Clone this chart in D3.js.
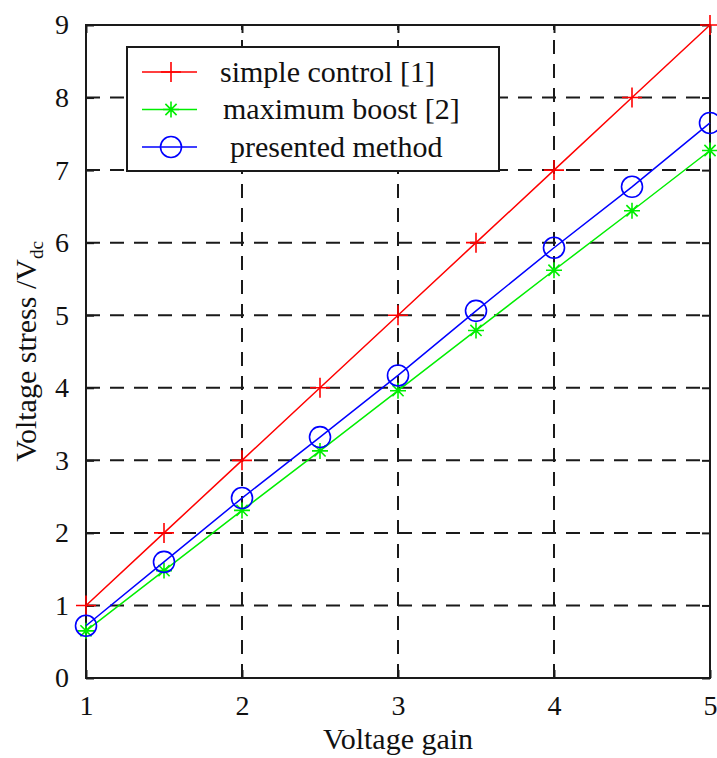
<!DOCTYPE html>
<html>
<head>
<meta charset="utf-8">
<script src="https://cdn.jsdelivr.net/npm/d3@7/dist/d3.min.js"></script>
<style>
  body { margin: 0; background: #fff; }
  svg text { font-family: "Liberation Serif", "DejaVu Serif", "Noto Serif", serif !important; fill: #111; }
</style>
</head>
<body>
<div id="chart"></div>
<script>
// data
var gains = [1, 1.5, 2, 2.5, 3, 3.5, 4, 4.5, 5];
var simpleControl = [1, 2, 3, 4, 5, 6, 7, 8, 9];
var maxBoost = [0.65, 1.48, 2.31, 3.13, 3.96, 4.79, 5.62, 6.44, 7.27];
var presented = [0.72, 1.60, 2.48, 3.32, 4.17, 5.06, 5.93, 6.77, 7.65];
var xTicks = [1, 2, 3, 4, 5];
var yTicks = [0, 1, 2, 3, 4, 5, 6, 7, 8, 9];
var seriesNames = ["simple control [1]", "maximum boost [2]", "presented method"];

var width = 717, height = 758;
var plot = {left: 86, right: 710, top: 25, bottom: 678};

var svg = d3.select("#chart").append("svg")
    .attr("width", width)
    .attr("height", height);

var x = d3.scaleLinear().domain([1, 5]).range([plot.left, plot.right]);
var y = d3.scaleLinear().domain([0, 9]).range([plot.bottom, plot.top]);

// Dashed grid
var grid = svg.append("g").attr("class", "grid")
    .style("stroke", "#1a1a1a")
    .style("stroke-width", 2)
    .style("stroke-dasharray", "14,10");
grid.selectAll("line.v").data(xTicks.slice(1, -1)).enter().append("line")
    .attr("x1", function(d) { return x(d); })
    .attr("x2", function(d) { return x(d); })
    .attr("y1", plot.bottom)
    .attr("y2", plot.top);
grid.selectAll("line.h").data(yTicks.slice(1, -1)).enter().append("line")
    .attr("x1", plot.left)
    .attr("x2", plot.right)
    .attr("y1", function(d) { return y(d); })
    .attr("y2", function(d) { return y(d); });

// Axes with inward ticks on all four sides
var tickLen = 8;
svg.append("g").attr("transform", "translate(0," + plot.bottom + ")")
    .call(d3.axisBottom(x).tickValues(xTicks).tickSizeInner(-tickLen).tickSizeOuter(0).tickPadding(17).tickFormat(d3.format("d")));
svg.append("g").attr("transform", "translate(0," + plot.top + ")")
    .call(d3.axisTop(x).tickValues(xTicks).tickSizeInner(-tickLen).tickSizeOuter(0).tickFormat(""));
svg.append("g").attr("transform", "translate(" + plot.left + ",0)")
    .call(d3.axisLeft(y).tickValues(yTicks).tickSizeInner(-tickLen).tickSizeOuter(0).tickPadding(17).tickFormat(d3.format("d")));
svg.append("g").attr("transform", "translate(" + plot.right + ",0)")
    .call(d3.axisRight(y).tickValues(yTicks).tickSizeInner(-tickLen).tickSizeOuter(0).tickFormat(""));

svg.selectAll(".domain").remove();
svg.selectAll("g").attr("font-family", null);
svg.selectAll(".tick line").style("stroke", "#1a1a1a").style("stroke-width", 2);
svg.selectAll(".tick text").style("font-size", "28px").style("fill", "#111");

// Frame
svg.append("rect")
    .attr("x", plot.left).attr("y", plot.top)
    .attr("width", plot.right - plot.left)
    .attr("height", plot.bottom - plot.top)
    .style("fill", "none")
    .style("stroke", "#1a1a1a")
    .style("stroke-width", 2);

// Markers
function drawMarker(g, type, cx, cy, color) {
    if (type === "plus") {
        g.append("path")
            .attr("d", "M" + (cx - 10) + "," + cy + "H" + (cx + 10) + "M" + cx + "," + (cy - 10) + "V" + (cy + 10))
            .style("stroke", color).style("stroke-width", 1.6).style("fill", "none");
    } else if (type === "star") {
        var s = 8, k = 5.6;
        g.append("path")
            .attr("d", "M" + (cx - s) + "," + cy + "H" + (cx + s) +
                       "M" + cx + "," + (cy - s) + "V" + (cy + s) +
                       "M" + (cx - k) + "," + (cy - k) + "L" + (cx + k) + "," + (cy + k) +
                       "M" + (cx - k) + "," + (cy + k) + "L" + (cx + k) + "," + (cy - k))
            .style("stroke", color).style("stroke-width", 1.6).style("fill", "none");
    } else {
        g.append("circle")
            .attr("cx", cx).attr("cy", cy).attr("r", 10.5)
            .style("stroke", color).style("stroke-width", 1.6).style("fill", "none");
    }
}

var series = [
    {name: seriesNames[0], values: simpleControl, color: "#ff0000", marker: "plus"},
    {name: seriesNames[1], values: maxBoost, color: "#00ee00", marker: "star"},
    {name: seriesNames[2], values: presented, color: "#0000ff", marker: "circle"}
];

var line = d3.line()
    .x(function(d) { return x(d[0]); })
    .y(function(d) { return y(d[1]); });

series.forEach(function(s) {
    var pts = gains.map(function(g, i) { return [g, s.values[i]]; });
    var g = svg.append("g");
    g.append("path")
        .attr("d", line(pts))
        .style("fill", "none")
        .style("stroke", s.color)
        .style("stroke-width", 1.5);
    pts.forEach(function(p) {
        drawMarker(g, s.marker, x(p[0]), y(p[1]), s.color);
    });
});

// Legend
var legend = svg.append("g").attr("transform", "translate(127,47)");
legend.append("rect")
    .attr("width", 372).attr("height", 124)
    .style("fill", "#fff")
    .style("stroke", "#1a1a1a")
    .style("stroke-width", 2);
var textShift = [0, 3, 10];
series.forEach(function(s, i) {
    var ry = 25 + i * 37.5;
    var row = legend.append("g");
    row.append("line")
        .attr("x1", 15).attr("x2", 70)
        .attr("y1", ry).attr("y2", ry)
        .style("stroke", s.color).style("stroke-width", 1.5);
    drawMarker(row, s.marker, 44, ry, s.color);
    row.append("text")
        .attr("x", 93 + textShift[i])
        .attr("y", ry)
        .attr("dy", "0.32em")
        .style("font-size", "30px")
        .text(s.name);
});

// Axis titles
svg.append("text")
    .attr("x", (plot.left + plot.right) / 2)
    .attr("y", 749)
    .attr("text-anchor", "middle")
    .style("font-size", "30px")
    .text("Voltage gain");

var yt = svg.append("text")
    .attr("transform", "translate(36," + ((plot.top + plot.bottom) / 2) + ") rotate(-90)")
    .attr("text-anchor", "middle")
    .style("font-size", "30px");
yt.append("tspan").text("Voltage stress /V");
yt.append("tspan").attr("dy", 7).style("font-size", "19px").text("dc");
</script>
</body>
</html>
